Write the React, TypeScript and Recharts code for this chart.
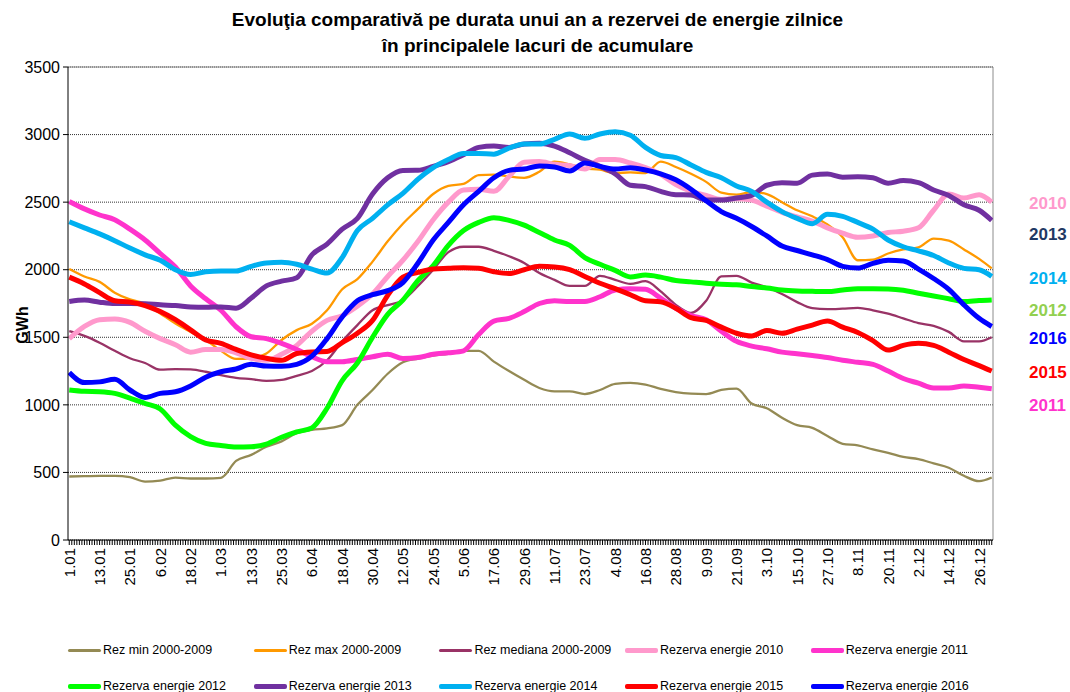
import React from 'react'
import { LineChart, Line, XAxis, YAxis, CartesianGrid, ReferenceLine } from 'recharts'

// day of year (0 = 1 ian), sampled every 6 days + last day
const DAYS = [
  0, 6, 12, 18, 24, 30, 36, 42, 48, 54, 60, 66, 72, 78, 84, 90, 96, 102, 108, 114,
  120, 126, 132, 138, 144, 150, 156, 162, 168, 174, 180, 186, 192, 198, 204, 210,
  216, 222, 228, 234, 240, 246, 252, 258, 264, 270, 276, 282, 288, 294, 300, 306,
  312, 318, 324, 330, 336, 342, 348, 354, 360, 365,
]

const TICK_LABELS = [
  '1.01', '13.01', '25.01', '6.02', '18.02', '1.03', '13.03', '25.03', '6.04', '18.04',
  '30.04', '12.05', '24.05', '5.06', '17.06', '29.06', '11.07', '23.07', '4.08', '16.08',
  '28.08', '9.09', '21.09', '3.10', '15.10', '27.10', '8.11', '20.11', '2.12', '14.12', '26.12',
]
const LABEL_STEP = 12
const Y_TICKS = [0, 500, 1000, 1500, 2000, 2500, 3000, 3500]

const REZ_MIN = [
  470, 472, 475, 475, 465, 432, 440, 462, 455, 455, 460, 585, 630, 690, 730, 790, 815, 826, 850, 1000,
  1110, 1230, 1315, 1343, 1365, 1378, 1400, 1400, 1320, 1250, 1185, 1125, 1100, 1100, 1080, 1110,
  1155, 1163, 1150, 1118, 1095, 1083, 1080, 1110, 1120, 1010, 975, 905, 850, 830, 770, 712,
  700, 670, 645, 615, 598, 567, 535, 475, 435, 462,
]
const REZ_MAX = [
  2005, 1950, 1910, 1830, 1780, 1750, 1676, 1602, 1540, 1480, 1400, 1340, 1345, 1380, 1480, 1553, 1600, 1700, 1855, 1930,
  2060, 2210, 2340, 2450, 2560, 2620, 2635, 2700, 2704, 2690, 2680, 2725, 2800, 2780, 2750, 2740,
  2715, 2720, 2715, 2800, 2760, 2710, 2650, 2570, 2555, 2575, 2560, 2500, 2440, 2395, 2335, 2240,
  2070, 2075, 2120, 2150, 2165, 2230, 2215, 2150, 2080, 2010,
]
const REZ_MEDIANA = [
  1545, 1510, 1460, 1400, 1345, 1310, 1260, 1265, 1262, 1245, 1220, 1200, 1190, 1178, 1185, 1215, 1250, 1330, 1470, 1590,
  1700, 1738, 1775, 1880, 2000, 2130, 2170, 2170, 2140, 2100, 2050, 1975, 1925, 1880, 1880, 1955,
  1925, 1895, 1915, 1840, 1740, 1680, 1770, 1950, 1955, 1905, 1870, 1820, 1760, 1715, 1708, 1712,
  1718, 1700, 1675, 1640, 1605, 1585, 1540, 1470, 1470, 1500,
]
const REZ_2010 = [
  1490, 1580, 1630, 1635, 1610, 1545, 1490, 1445, 1390, 1410, 1410, 1385, 1345, 1330, 1375, 1440, 1545, 1625, 1660, 1730,
  1820, 1950, 2070, 2210, 2370, 2500, 2590, 2595, 2580, 2690, 2795, 2800, 2780, 2770, 2745, 2815,
  2815, 2790, 2755, 2705, 2630, 2580, 2550, 2520, 2525, 2515, 2470, 2425, 2390, 2360, 2310, 2270,
  2240, 2250, 2275, 2285, 2310, 2440, 2560, 2530, 2555, 2500,
]
const REZ_2011 = [
  2505, 2450, 2405, 2370, 2300, 2220, 2120, 2020, 1880, 1785, 1700, 1578, 1504, 1490, 1455, 1410, 1356, 1319, 1319, 1336,
  1356, 1375, 1343, 1350, 1375, 1385, 1400, 1520, 1620, 1640, 1690, 1750, 1770, 1765, 1765, 1800,
  1850, 1860, 1855, 1790, 1715, 1660, 1630, 1545, 1470, 1435, 1415, 1390, 1378, 1365, 1350, 1330,
  1315, 1300, 1250, 1195, 1160, 1125, 1125, 1140, 1130, 1120,
]
const REZ_2012 = [
  1110, 1100, 1097, 1085, 1050, 1010, 970, 850, 765, 715, 700, 688, 690, 710, 760, 800, 830, 975, 1180, 1310,
  1500, 1670, 1775, 1920, 2030, 2180, 2290, 2350, 2385, 2365, 2330, 2275, 2220, 2180, 2090, 2040,
  1995, 1947, 1960, 1945, 1920, 1910, 1900, 1893, 1888, 1875, 1865, 1850, 1843, 1840, 1838, 1850,
  1860, 1860, 1858, 1848, 1826, 1806, 1785, 1764, 1772, 1776,
]
const REZ_2013 = [
  1765, 1775, 1760, 1750, 1750, 1748, 1740, 1735, 1725, 1722, 1725, 1715, 1790, 1880, 1915, 1940, 2110, 2190, 2300, 2380,
  2560, 2680, 2735, 2736, 2765, 2800, 2850, 2905, 2915, 2905, 2930, 2935, 2915, 2865, 2810, 2765,
  2710, 2625, 2615, 2580, 2555, 2553, 2515, 2515, 2530, 2550, 2625, 2643, 2640, 2700, 2708, 2685,
  2687, 2680, 2640, 2660, 2645, 2590, 2550, 2480, 2440, 2365,
]
const REZ_2014 = [
  2355, 2310, 2265, 2215, 2160, 2110, 2070, 2000, 1965, 1985, 1990, 1990, 2025, 2050, 2055, 2040, 2005, 1975, 2090, 2290,
  2380, 2480, 2565, 2670, 2755, 2815, 2860, 2860, 2855, 2900, 2930, 2930, 2965, 3005, 2972, 3004,
  3020, 2995, 2905, 2845, 2830, 2775, 2720, 2680, 2620, 2580, 2500, 2430, 2380, 2340, 2410, 2395,
  2350, 2300, 2220, 2170, 2140, 2105, 2050, 2010, 2000, 1950,
]
const REZ_2015 = [
  1945, 1895, 1830, 1770, 1760, 1735, 1690, 1630, 1555, 1480, 1455, 1410, 1370, 1345, 1330, 1380, 1392, 1395, 1460, 1530,
  1625, 1810, 1945, 1980, 2005, 2010, 2015, 2010, 1985, 1972, 2000, 2025, 2020, 2000, 1950, 1900,
  1860, 1815, 1770, 1762, 1715, 1645, 1625, 1575, 1530, 1510, 1550, 1530, 1560, 1590, 1620, 1575,
  1535, 1475, 1405, 1440, 1455, 1440, 1390, 1335, 1290, 1250,
]
const REZ_2016 = [
  1240, 1165, 1170, 1190, 1110, 1055, 1085, 1097, 1140, 1205, 1245, 1265, 1300, 1287, 1285, 1300, 1360, 1490, 1650, 1770,
  1815, 1845, 1905, 2050, 2220, 2350, 2480, 2580, 2680, 2735, 2745, 2768, 2760, 2730, 2790, 2765,
  2745, 2755, 2738, 2710, 2665, 2595, 2510, 2430, 2380, 2320, 2250, 2175, 2142, 2110, 2075, 2025,
  2012, 2047, 2070, 2065, 2005, 1935, 1855, 1740, 1640, 1580,
]

const SERIES = [
  { key: 'min', name: 'Rez min 2000-2009', color: '#948A54', width: 2.3, values: REZ_MIN },
  { key: 'max', name: 'Rez max 2000-2009', color: '#FF9900', width: 2.3, values: REZ_MAX },
  { key: 'med', name: 'Rez mediana 2000-2009', color: '#993366', width: 2.3, values: REZ_MEDIANA },
  { key: 'y2010', name: 'Rezerva energie 2010', color: '#FF99CC', width: 5, values: REZ_2010 },
  { key: 'y2011', name: 'Rezerva energie 2011', color: '#FF33CC', width: 5, values: REZ_2011 },
  { key: 'y2012', name: 'Rezerva energie 2012', color: '#00FF00', width: 5, values: REZ_2012 },
  { key: 'y2013', name: 'Rezerva energie 2013', color: '#7030A0', width: 5, values: REZ_2013 },
  { key: 'y2014', name: 'Rezerva energie 2014', color: '#00B0F0', width: 5, values: REZ_2014 },
  { key: 'y2015', name: 'Rezerva energie 2015', color: '#FF0000', width: 5, values: REZ_2015 },
  { key: 'y2016', name: 'Rezerva energie 2016', color: '#0000FF', width: 5, values: REZ_2016 },
]

const SIDE_LABELS = [
  { text: '2010', color: '#FF99CC', y: 204 },
  { text: '2013', color: '#1F3864', y: 235 },
  { text: '2014', color: '#00B0F0', y: 279 },
  { text: '2012', color: '#92D050', y: 311 },
  { text: '2016', color: '#0000FF', y: 339 },
  { text: '2015', color: '#FF0000', y: 373 },
  { text: '2011', color: '#FF33CC', y: 406 },
]

// one minor tick per day, like the category axis of the original
const ALL_DAYS = Array.from({ length: 366 }, (_, i) => i)

const chartData = DAYS.map((day, i) => {
  const row: Record<string, number> = { day }
  SERIES.forEach(s => { row[s.key] = s.values[i] })
  return row
})

const FONT = '"Liberation Sans", Arial, Helvetica, sans-serif'

function DayTick(props: any) {
  const { x, y, payload } = props
  const d = payload.value as number
  const label = d % LABEL_STEP === 0 ? TICK_LABELS[d / LABEL_STEP] : undefined
  return (
    <g>
      <line x1={x} x2={x} y1={y - 7} y2={y - 2} stroke="#000" strokeWidth={1} />
      {label && (
        <text
          transform={`translate(${x},${y + 1}) rotate(-90)`}
          textAnchor="end"
          dy="0.36em"
          fontSize={15}
          fontFamily={FONT}
          fill="#000"
        >
          {label}
        </text>
      )}
    </g>
  )
}

export default function App() {
  return (
    <div style={{ position: 'relative', width: 1070, height: 692, background: '#fff', fontFamily: FONT }}>
      <style>{'body{margin:0}'}</style>

      {/* ── title ── */}
      <div
        style={{
          position: 'absolute', left: 0, top: 7, width: 1075, textAlign: 'center',
          fontSize: 19, fontWeight: 700, lineHeight: '26px', color: '#000',
        }}
      >
        Evoluţia comparativă pe durata unui an a rezervei de energie zilnice
        <br />
        în principalele lacuri de acumulare
      </div>

      <LineChart
        width={1070}
        height={692}
        data={chartData}
        margin={{ top: 67, right: 77, bottom: 92, left: 8 }}
        style={{ position: 'absolute', left: 0, top: 0 }}
      >
        <CartesianGrid vertical={false} stroke="#333" strokeDasharray="1 1" />
        <XAxis
          dataKey="day"
          type="number"
          domain={[-0.5, 365.5]}
          ticks={ALL_DAYS}
          interval={0}
          height={60}
          tickSize={5}
          tick={<DayTick />}
          tickLine={false}
          axisLine={{ stroke: '#000' }}
          allowDataOverflow
        />
        <YAxis
          type="number"
          domain={[0, 3500]}
          ticks={Y_TICKS}
          interval={0}
          width={60}
          tickSize={5}
          tickMargin={3}
          tick={{ fontSize: 16, fill: '#000', fontFamily: FONT }}
          tickLine={{ stroke: '#000' }}
          axisLine={{ stroke: '#000' }}
        />
        <ReferenceLine y={3500} stroke="#8c8c8c" strokeWidth={1} />
        <ReferenceLine x={365.5} stroke="#8c8c8c" strokeWidth={1} />
        {SERIES.map(s => (
          <Line
            key={s.key}
            dataKey={s.key}
            name={s.name}
            type="monotone"
            stroke={s.color}
            strokeWidth={s.width}
            strokeLinejoin="round"
            dot={false}
            activeDot={false}
            isAnimationActive={false}
          />
        ))}
      </LineChart>

      {/* ── y axis title ── */}
      <div
        style={{
          position: 'absolute', left: 23, top: 325, transform: 'translate(-50%,-50%) rotate(-90deg)',
          fontSize: 16, fontWeight: 700, color: '#000', whiteSpace: 'nowrap',
        }}
      >
        GWh
      </div>

      {/* ── year labels on the right ── */}
      {SIDE_LABELS.map(l => (
        <div
          key={l.text}
          style={{
            position: 'absolute', left: 1029, top: l.y - 10, lineHeight: '20px',
            fontSize: 17, fontWeight: 700, color: l.color,
          }}
        >
          {l.text}
        </div>
      ))}

      {/* ── legend ── */}
      {SERIES.map((s, i) => {
        const col = i % 5
        const row = Math.floor(i / 5)
        const left = 68 + col * 185.7
        const cy = row === 0 ? 650 : 686
        return (
          <div
            key={s.key}
            style={{ position: 'absolute', left, top: cy - 8, height: 16, display: 'flex', alignItems: 'center' }}
          >
            <span
              style={{
                display: 'inline-block', width: 33, height: s.width > 3 ? 5 : 3,
                background: s.color, borderRadius: 2, marginRight: 2,
              }}
            />
            <span style={{ fontSize: 12.5, color: '#000', whiteSpace: 'nowrap' }}>{s.name}</span>
          </div>
        )
      })}
    </div>
  )
}
